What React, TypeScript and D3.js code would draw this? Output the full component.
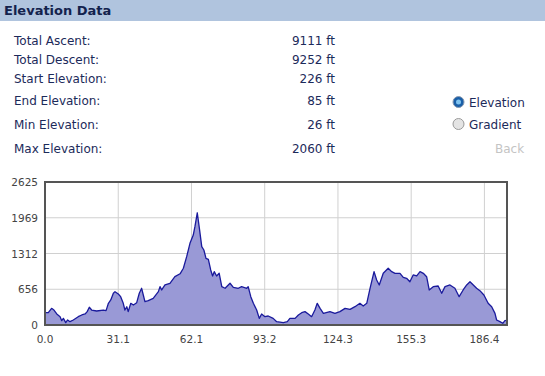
import React from "react";
import * as d3 from "d3";

const distance = [0,1.4,2.8,3.8,5.0,6.4,7.1,7.8,8.8,9.6,10.6,12.0,14.1,15.6,17.0,17.9,18.8,19.8,21.9,24.7,25.9,26.9,27.9,29.0,29.7,31.1,32.1,33.2,33.9,34.7,35.3,36.4,37.5,38.9,40.0,41.0,41.7,42.4,43.8,45.9,48.1,48.8,49.5,50.9,53.0,55.1,57.3,58.7,60.1,61.5,62.9,63.6,64.6,65.5,66.5,67.4,68.3,69.3,70.3,71.1,71.8,72.8,73.9,75.0,76.4,78.5,79.9,82.0,83.4,85.6,86.2,87.3,88.4,89.8,90.9,91.9,93.3,94.7,96.8,98.3,101.1,102.8,103.9,106.1,107.5,108.9,110.3,111.7,113.1,114.5,115.5,116.7,118.1,120.9,123.0,125.1,127.3,129.4,131.5,133.6,135.0,136.5,137.9,139.6,140.7,141.8,143.5,145.6,147.1,148.5,150.6,152.0,153.4,154.8,156.2,157.7,159.1,160.5,161.9,163.0,164.7,166.8,168.3,169.7,171.8,173.9,175.7,177.4,178.9,180.3,181.7,183.1,184.5,186.2,188.0,189.5,190.9,191.6,193.0,194.2,195.1,195.9];
const elevation = [226,226,306,275,202,153,80,122,43,92,61,92,153,184,202,245,325,275,257,275,263,398,459,582,612,569,520,398,275,336,245,398,367,410,582,674,551,428,447,490,612,704,643,735,766,887,940,1041,1254,1500,1652,1805,2060,1775,1438,1377,1224,1205,1010,900,979,900,949,704,674,766,692,674,704,674,704,520,398,275,122,202,153,165,122,61,43,61,122,122,184,226,245,202,153,275,398,306,214,245,214,245,306,288,336,398,349,398,674,979,826,735,949,1041,979,949,949,875,857,795,918,900,979,949,887,643,704,716,582,704,735,674,520,643,735,795,735,674,630,551,398,336,214,92,61,31,80,85];

const xTickValues = [0, 31.07, 62.14, 93.21, 124.28, 155.35, 186.42];
const xTickLabels = ["0.0", "31.1", "62.1", "93.2", "124.3", "155.3", "186.4"];
const yTickValues = [0, 656.25, 1312.5, 1968.75, 2625];
const yTickLabels = ["0", "656", "1312", "1969", "2625"];

const statLabels = ["Total Ascent:", "Total Descent:", "Start Elevation:", "End Elevation:", "Min Elevation:", "Max Elevation:"];
const statValues = ["9111 ft", "9252 ft", "226 ft", "85 ft", "26 ft", "2060 ft"];
const statBaselines = [44.5, 63.5, 82.5, 104.5, 128.5, 152.5];

export default function App() {
  const W = 545, H = 376;
  const left = 45, right = 507, top = 182, bottom = 325;
  const x = d3.scaleLinear().domain([0, 196]).range([left, right]);
  const y = d3.scaleLinear().domain([0, 2625]).range([bottom, top]);
  const pts = distance.map((d, i) => [d, elevation[i]] as [number, number]);
  const area = d3.area<[number, number]>().x(d => x(d[0])).y0(bottom).y1(d => y(d[1]))(pts) || "";
  const line = d3.line<[number, number]>().x(d => x(d[0])).y(d => y(d[1]))(pts) || "";
  const font = "'DejaVu Sans', Verdana, sans-serif";
  const navy = "#1c2a5a";
  return (
    <svg width={W} height={H} style={{ position: "absolute", left: 0, top: 0, background: "#fff" }} fontFamily={font}>
      <rect x={0} y={0} width={W} height={21} fill="#b0c4de" />
      <text x={4} y={15} fontSize={13} fontWeight="bold" fill="#13224d">Elevation Data</text>
      {statLabels.map((s, i) => (
        <g key={s}>
          <text x={14} y={statBaselines[i]} fontSize={12} fill={navy}>{s}</text>
          <text x={335} y={statBaselines[i]} fontSize={12} fill={navy} textAnchor="end">{statValues[i]}</text>
        </g>
      ))}
      <circle cx={458.5} cy={102} r={5.5} fill="#1a5fa8" stroke="#8a9ab0" strokeWidth={1} />
      <circle cx={458.5} cy={102} r={2.5} fill="#7fc3f0" />
      <text x={469} y={106.5} fontSize={12} fill={navy}>Elevation</text>
      <circle cx={458.5} cy={124} r={5.5} fill="#e4e4e4" stroke="#9a9a9a" strokeWidth={1} />
      <text x={469} y={128.5} fontSize={12} fill={navy}>Gradient</text>
      <text x={495} y={153} fontSize={12} fill="#c4c4c4">Back</text>

      <rect x={left} y={top} width={right - left} height={bottom - top} fill="#fff" />
      {xTickValues.slice(1).map(v => (
        <line key={"gx" + v} x1={x(v)} x2={x(v)} y1={top} y2={bottom} stroke="#d0d0d0" strokeWidth={1} />
      ))}
      {yTickValues.slice(1, -1).map(v => (
        <line key={"gy" + v} x1={left} x2={right} y1={y(v)} y2={y(v)} stroke="#d0d0d0" strokeWidth={1} />
      ))}
      <path d={area} fill="#9999d6" />
      <path d={line} fill="none" stroke="#1a1a9c" strokeWidth={1.3} strokeLinejoin="round" />
      <rect x={left} y={top} width={right - left} height={bottom - top} fill="none" stroke="#555" strokeWidth={2} />
      {yTickValues.map((v, i) => (
        <text key={"yl" + v} x={38} y={y(v) + 4} fontSize={10.5} fill="#444" textAnchor="end">{yTickLabels[i]}</text>
      ))}
      {xTickValues.map((v, i) => (
        <text key={"xl" + v} x={x(v)} y={343} fontSize={10.5} fill="#444" textAnchor="middle">{xTickLabels[i]}</text>
      ))}
    </svg>
  );
}
